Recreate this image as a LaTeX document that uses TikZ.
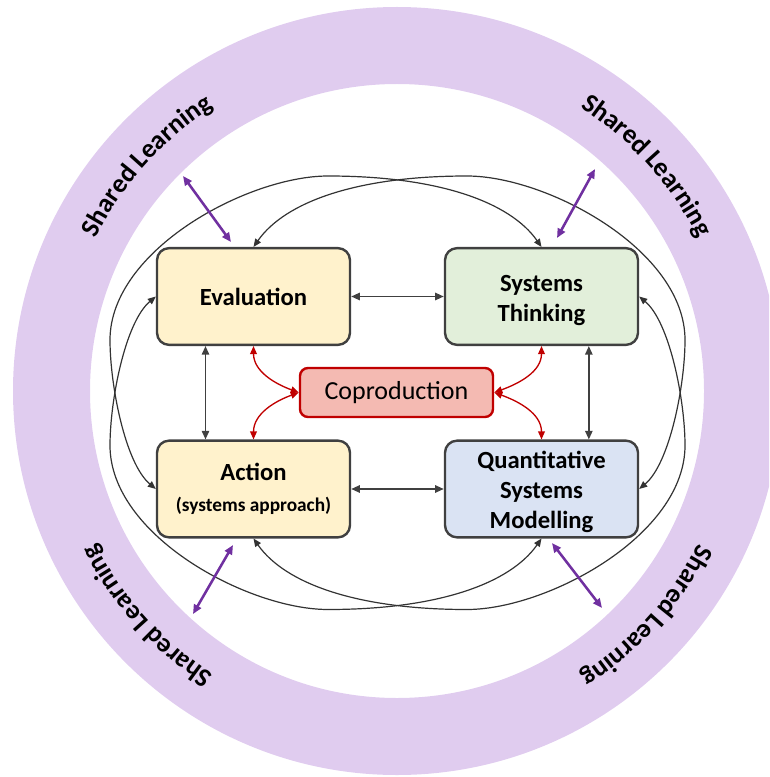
\documentclass[tikz,border=0pt]{standalone}
\usepackage{fontspec}
\setmainfont{Carlito}
\usepackage{xcolor}
\usepackage{tikz}
\usetikzlibrary{arrows.meta,decorations.text}

\definecolor{ringlilac}{RGB}{224,204,239}
\definecolor{evalyellow}{RGB}{255,242,204}
\definecolor{sysgreen}{RGB}{226,239,218}
\definecolor{modblue}{RGB}{218,227,243}
\definecolor{coprofill}{RGB}{244,186,178}
\definecolor{coproline}{RGB}{192,0,0}
\definecolor{boxline}{RGB}{64,64,64}
\definecolor{sharedpurple}{RGB}{112,48,160}

\tikzset{
  stage/.style={draw=boxline, line width=1.8pt, rounded corners=9pt, minimum width=144.75pt, minimum height=72.5pt, inner sep=0pt, align=center, font=\fontsize{18.5}{22.5}\selectfont\bfseries},
  link/.style={draw=boxline, line width=1.3pt, <->, >={Triangle[length=6.5pt,width=5.5pt]}},
  outerlink/.style={draw=boxline!80!black, line width=0.9pt, <->, >={Triangle[length=6pt,width=5pt]}},
  colink/.style={draw=coproline, line width=1pt, <->, >={Triangle[length=6pt,width=5pt]}},
  share/.style={draw=sharedpurple, line width=1.9pt, <->, >={Triangle[length=7pt,width=6pt]}},
  ringtext/.style={decorate, decoration={text along path, text align=center, text={|\fontsize{20}{20}\selectfont\bfseries|Shared Learning}}}
}

\begin{document}
\begin{tikzpicture}[x=0.75pt,y=0.75pt,yscale=-1,xscale=1]
    \useasboundingbox (0,0) rectangle (769,777);
    \clip (0,0) rectangle (769,777);
    %Shape: Ring
    \coordinate (ctr) at (397,391);
    \fill[ringlilac, even odd rule] (ctr) circle[radius=384] (ctr) circle[radius=307];
    % Text on ring
    \path[ringtext] (ctr) ++(-178:338) arc[start angle=-178, end angle=-98, radius=338];
    \path[ringtext] (ctr) ++(-82:338) arc[start angle=-82, end angle=-2, radius=338];
    \path[ringtext] (ctr) ++(2:338) arc[start angle=2, end angle=82, radius=338];
    \path[ringtext] (ctr) ++(98:338) arc[start angle=98, end angle=178, radius=338];
    % Boxes
    \node[stage, fill=evalyellow] (eval) at (253.5,296.5) {Evaluation};
    \node[stage, fill=sysgreen] (syst) at (541.5,296.5) {\rule{0pt}{18pt}Systems\\Thinking};
    \node[stage, fill=evalyellow] (action) at (253.5,489) {Action\\[1pt]{\fontsize{14.5}{17}\selectfont (systems approach)}};
    \node[stage, fill=modblue] (qsm) at (541.5,489) {\rule{0pt}{18pt}Quantitative\\Systems\\Modelling};
    \node[stage, fill=coprofill, draw=coproline, rounded corners=6pt, minimum height=36.75pt, font=\fontsize{19.5}{22}\selectfont] (copro) at (396.5,392.5) {Coproduction};
    %Straight Lines
    \draw[link] (eval.east) -- (syst.west);
    \draw[link] (action.east) -- (qsm.west);
    \draw[link] ([xshift=-36pt]eval.south) -- ([xshift=-36pt]action.north);
    \draw[link] ([xshift=35.5pt]syst.south) -- ([xshift=35.5pt]qsm.north);
    %Curve Lines to Coproduction
    \draw[colink] (eval.south) to[out=90,in=200] (copro.west);
    \draw[colink] (action.north) to[out=-90,in=160] (copro.west);
    \draw[colink] (syst.south) to[out=90,in=-20] (copro.east);
    \draw[colink] (qsm.north) to[out=-90,in=20] (copro.east);
    %Outer loops
    \coordinate (topR) at (467,176);
    \coordinate (topL) at (328,176);
    \coordinate (botR) at (467,609.5);
    \coordinate (botL) at (328,609.5);
    \coordinate (sideR1) at (685,340);
    \coordinate (sideR2) at (685,445.5);
    \coordinate (sideL1) at (110,340);
    \coordinate (sideL2) at (110,445.5);
    \draw[outerlink] (eval.north) .. controls +(-55:55) and +(-110,0) .. (topR)
        .. controls +(80,0) and +(0,-90) .. (sideR1)
        .. controls +(0,45) and +(-40:40) .. (qsm.east);
    \draw[outerlink] (syst.north) .. controls +(-125:55) and +(110,0) .. (topL)
        .. controls +(-80,0) and +(0,-90) .. (sideL1)
        .. controls +(0,45) and +(-140:40) .. (action.west);
    \draw[outerlink] (action.south) .. controls +(55:55) and +(-110,0) .. (botR)
        .. controls +(80,0) and +(0,90) .. (sideR2)
        .. controls +(0,-45) and +(40:40) .. (syst.east);
    \draw[outerlink] (eval.west) .. controls +(140:40) and +(0,-45) .. (sideL2)
        .. controls +(0,90) and +(-80,0) .. (botL)
        .. controls +(110,0) and +(125:55) .. (qsm.south);
    %Shared learning arrows
    \coordinate (shTL1) at (183,176);
    \coordinate (shTL2) at (231,242);
    \coordinate (shTR1) at (595,169);
    \coordinate (shTR2) at (557,238);
    \coordinate (shBL1) at (233,545);
    \coordinate (shBL2) at (193,614);
    \coordinate (shBR1) at (552,543);
    \coordinate (shBR2) at (602,608);
    \draw[share] (shTL1) -- (shTL2);
    \draw[share] (shTR1) -- (shTR2);
    \draw[share] (shBL1) -- (shBL2);
    \draw[share] (shBR1) -- (shBR2);
\end{tikzpicture}
\end{document}
